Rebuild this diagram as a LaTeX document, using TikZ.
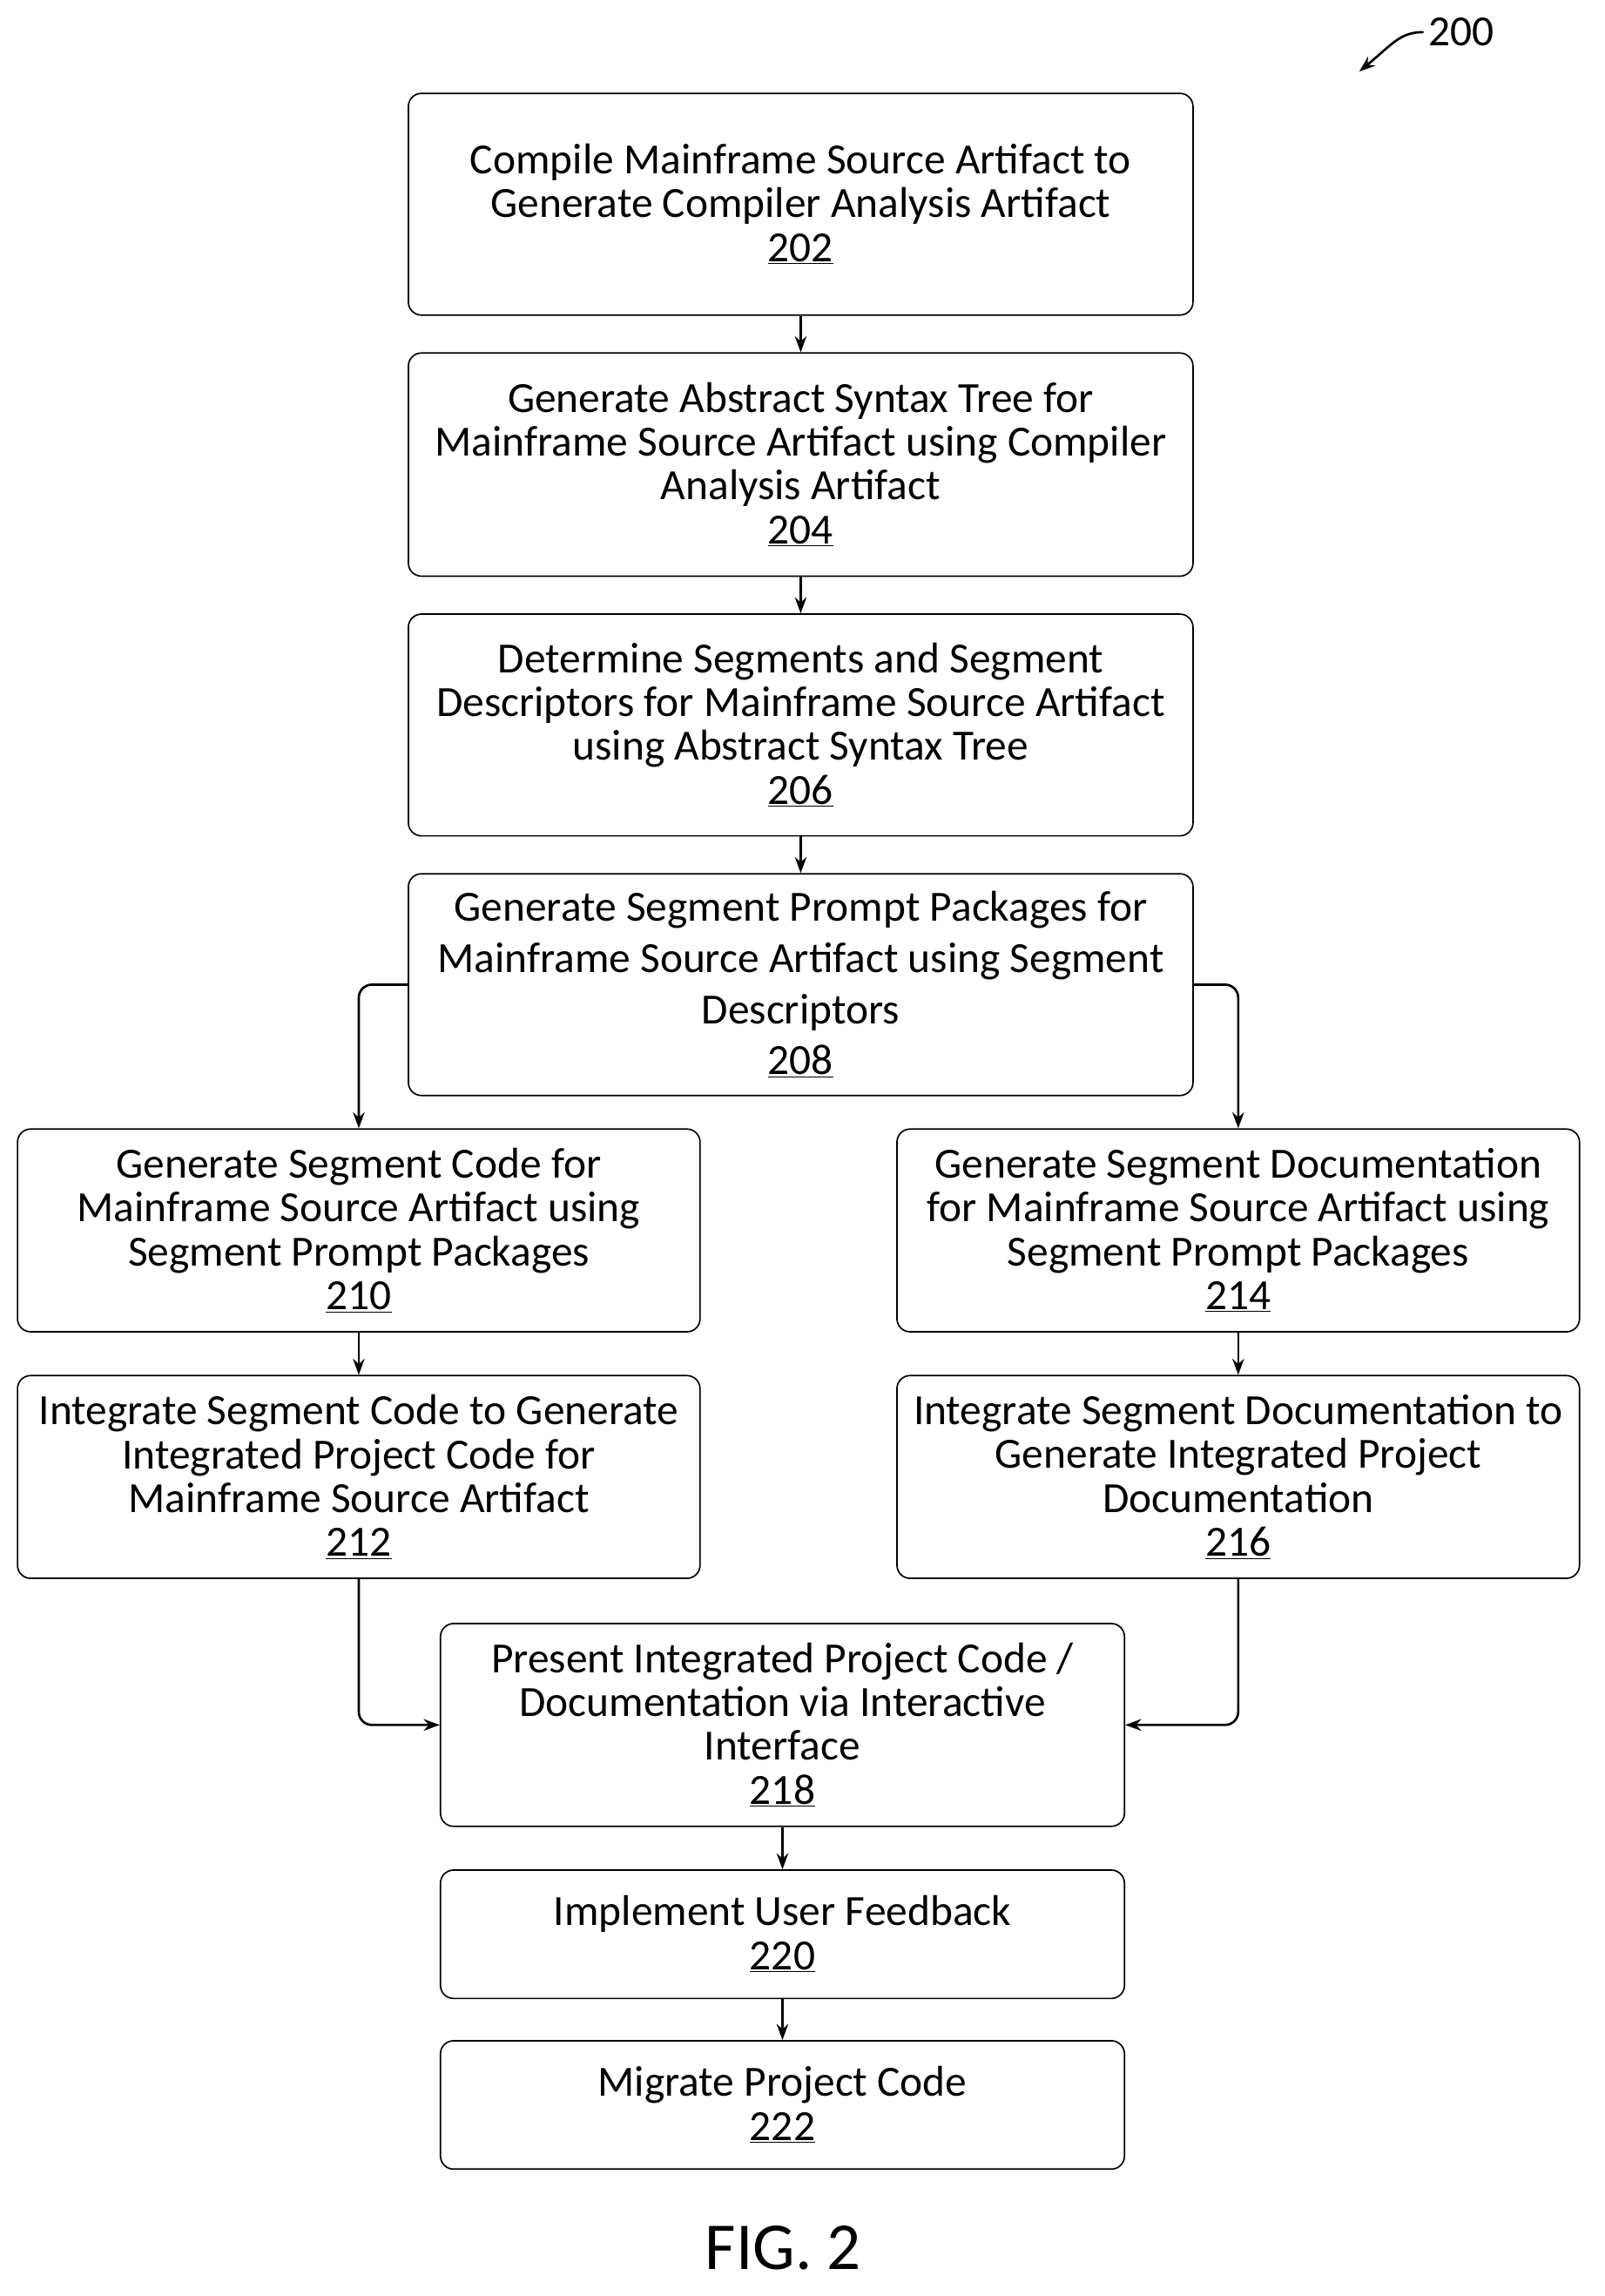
\documentclass[tikz,border=0pt]{standalone}
\usepackage{fontspec}
\setmainfont{Carlito}
\usetikzlibrary{arrows.meta}
\begin{document}
\begin{tikzpicture}[x=1pt,y=1pt,yscale=-1,
  box/.style={draw,rounded corners=9pt,line width=1pt,align=center,inner sep=0pt,font=\fontsize{29.5}{30}\selectfont},
  arr/.style={-{Stealth[length=11pt,width=8pt]},line width=1.6pt,rounded corners=9pt}]
\useasboundingbox (0,0) rectangle (1100,1574);
% Boxes
\node[box,minimum width=538pt,minimum height=152pt] (b202) at (549,140) {Compile Mainframe Source Artifact to\\Generate Compiler Analysis Artifact\\\underline{202}};
\node[box,minimum width=538pt,minimum height=153pt] (b204) at (549,318.5) {Generate Abstract Syntax Tree for\\Mainframe Source Artifact using Compiler\\Analysis Artifact\\\underline{204}};
\node[box,minimum width=538pt,minimum height=152pt] (b206) at (549,497) {Determine Segments and Segment\\Descriptors for Mainframe Source Artifact\\using Abstract Syntax Tree\\\underline{206}};
\node[box,minimum width=538pt,minimum height=152pt,font=\fontsize{29.5}{35}\selectfont] (b208) at (549,675) {Generate Segment Prompt Packages for\\Mainframe Source Artifact using Segment\\Descriptors\\\underline{208}};
\node[box,minimum width=468pt,minimum height=139pt] (b210) at (246,843.5) {Generate Segment Code for\\Mainframe Source Artifact using\\Segment Prompt Packages\\\underline{210}};
\node[box,minimum width=468pt,minimum height=139pt] (b214) at (849,843.5) {Generate Segment Documentation\\for Mainframe Source Artifact using\\Segment Prompt Packages\\\underline{214}};
\node[box,minimum width=468pt,minimum height=139pt] (b212) at (246,1012.5) {Integrate Segment Code to Generate\\Integrated Project Code for\\Mainframe Source Artifact\\\underline{212}};
\node[box,minimum width=468pt,minimum height=139pt] (b216) at (849,1012.5) {Integrate Segment Documentation to\\Generate Integrated Project\\Documentation\\\underline{216}};
\node[box,minimum width=469pt,minimum height=139pt] (b218) at (536.5,1182.5) {Present Integrated Project Code /\\Documentation via Interactive\\Interface\\\underline{218}};
\node[box,minimum width=469pt,minimum height=88pt] (b220) at (536.5,1326) {Implement User Feedback\\\underline{220}};
\node[box,minimum width=469pt,minimum height=88pt] (b222) at (536.5,1443) {Migrate Project Code\\\underline{222}};
% Arrows
\draw[arr] (b202) -- (b204);
\draw[arr] (b204) -- (b206);
\draw[arr] (b206) -- (b208);
\draw[arr] (b208.west) -| (b210.north);
\draw[arr] (b208.east) -| (b214.north);
\draw[arr] (b210) -- (b212);
\draw[arr] (b214) -- (b216);
\draw[arr] (b212.south) |- (b218.west);
\draw[arr] (b216.south) |- (b218.east);
\draw[arr] (b218) -- (b220);
\draw[arr] (b220) -- (b222);
% Reference label
\node[font=\fontsize{29.5}{30}\selectfont] (lbl) at (1002,22) {200};
\coordinate (tip) at (932,49);
\draw[-{Stealth[length=11pt,width=8pt]},line width=1.6pt] (lbl.west) .. controls (960,22) and (955,30) .. (tip);
% Figure caption
\node[font=\fontsize{46}{50}\selectfont] (fig) at (537,1541) {FIG. 2};
\end{tikzpicture}
\end{document}
